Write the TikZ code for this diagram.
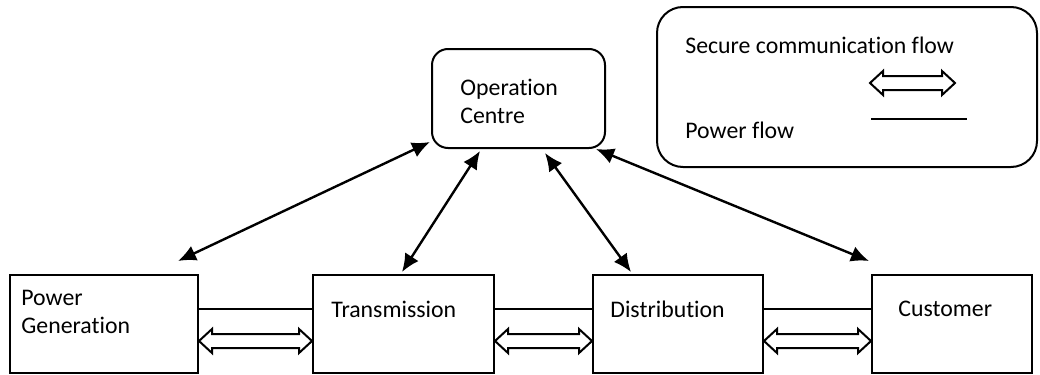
\documentclass[tikz,border=0pt]{standalone}
\usepackage{fontspec}
\setmainfont{Carlito}[Ligatures=NoCommon]
\usetikzlibrary{arrows.meta,calc,positioning}

\tikzset{
  unit/.style={draw,line width=1pt,minimum height=49pt,inner sep=0pt},
  centre/.style={draw,line width=1pt,rounded corners=8pt,minimum width=86.5pt,minimum height=49.5pt,inner sep=0pt},
  keybox/.style={draw,line width=1pt,rounded corners=13pt,minimum width=190pt,minimum height=80pt,inner sep=0pt},
  lbl/.style={anchor=west,inner sep=0pt,align=left,font=\fontsize{11.9}{14}\selectfont},
  secure/.style={line width=1.2pt,{Latex[length=9pt,width=8pt]}-{Latex[length=9pt,width=8pt]}},
  power/.style={line width=1pt},
  flowline/.style={line width=1pt,line join=miter}
}

\newcommand\commflow[2]{%
  \draw[flowline] let \p1=(#1), \p2=(#2) in
    (\x1,\y1) -- (\x1+6.5pt,\y1+6pt) -- (\x1+6.5pt,\y1+3.5pt) -- (\x2-6.5pt,\y2+3.5pt)
    -- (\x2-6.5pt,\y2+6pt) -- (\x2,\y2) -- (\x2-6.5pt,\y2-6pt) -- (\x2-6.5pt,\y2-3.5pt)
    -- (\x1+6.5pt,\y1-3.5pt) -- (\x1+6.5pt,\y1-6pt) -- cycle;}

\begin{document}
\begin{tikzpicture}[x=0.5pt,y=-0.5pt]
  \useasboundingbox (0,0) rectangle (1040,375);

  \node[unit,minimum width=94pt] (pg) at (104,324) {};
  \node[unit,minimum width=90.5pt] (tr) at (403.5,324) {};
  \node[unit,minimum width=85pt] (di) at (678,324) {};
  \node[unit,minimum width=80pt] (cu) at (952,324) {};
  \node[centre] (oc) at (518.5,98.5) {};
  \node[keybox] (key) at (847,87) {};

  \node[lbl] (pg-txt) at (21,312) {Power\\Generation};
  \node[lbl] (tr-txt) at (331,309) {Transmission};
  \node[lbl] (di-txt) at (610,309) {Distribution};
  \node[lbl] (cu-txt) at (898,309) {Customer};
  \node[lbl] (oc-txt) at (460,101.5) {Operation\\Centre};
  \node[lbl] (key-sec) at (685,45) {Secure communication flow};
  \node[lbl] (key-pow) at (685,130) {Power flow};

  \coordinate (sec-a) at (870,83);
  \coordinate (sec-b) at (955,83);
  \coordinate (pow-a) at (871,119);
  \coordinate (pow-b) at (967,119);

  \draw[secure] ($(pg.north east)+(-21,-13)$) -- ($(oc.south west)+(-1,-7)$);
  \draw[secure] ($(tr.north)+(-1.5,-2)$) -- ($(oc.south)+(-38.5,2)$);
  \draw[secure] ($(di.north west)+(39,-2)$) -- ($(oc.south)+(26.5,4)$);
  \draw[secure] ($(cu.north west)+(-2,-13)$) -- ($(oc.south east)+(-10,0)$);

  \draw[power] ($(pg.east)+(0,-15)$) -- ($(tr.west)+(0,-15)$);
  \draw[power] ($(tr.east)+(0,-15)$) -- ($(di.west)+(0,-15)$);
  \draw[power] ($(di.east)+(0,-15)$) -- ($(cu.west)+(0,-15)$);
  \draw[power] (pow-a) -- (pow-b);

  \commflow{$(pg.east)+(0,17)$}{$(tr.west)+(0,17)$}
  \commflow{$(tr.east)+(0,17)$}{$(di.west)+(0,17)$}
  \commflow{$(di.east)+(0,17)$}{$(cu.west)+(0,17)$}
  \commflow{sec-a}{sec-b}
\end{tikzpicture}
\end{document}
